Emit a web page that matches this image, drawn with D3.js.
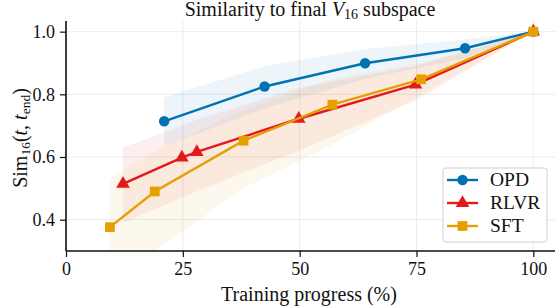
<!DOCTYPE html>
<html><head><meta charset="utf-8">
<script src="https://cdn.jsdelivr.net/npm/d3@7"></script>
<style>body{margin:0;background:#fff}svg text{font-family:'Liberation Serif','Times New Roman',serif !important}</style>
</head><body>
<svg id="c" width="555" height="308"></svg>
<script>
const seriesNames = ["OPD","RLVR","SFT"];
const colors = ["#0072B2","#E3191C","#E69F00"];
const opdX = [21, 42.5, 64, 85.4, 100];
const opdY = [0.714, 0.825, 0.899, 0.947, 1.0];
const opdLo = [0.635, 0.755, 0.85, 0.915, 1.0];
const opdHi = [0.79, 0.89, 0.945, 0.975, 1.0];
const rlvrX = [12.2, 24.8, 28, 49.8, 74.8, 100];
const rlvrY = [0.514, 0.598, 0.616, 0.722, 0.831, 1.0];
const rlvrLo = [0.39, 0.47, 0.49, 0.62, 0.78, 1.0];
const rlvrHi = [0.63, 0.70, 0.72, 0.82, 0.89, 1.0];
const sftX = [9.4, 19.0, 38, 57, 76, 100];
const sftY = [0.376, 0.490, 0.652, 0.767, 0.848, 1.0];
const sftLo = [0.22, 0.30, 0.50, 0.64, 0.80, 1.0];
const sftHi = [0.53, 0.62, 0.75, 0.85, 0.90, 1.0];
const xTicks = [0, 25, 50, 75, 100];
const yTicks = [0.4, 0.6, 0.8, 1.0];

const FONT = "'Liberation Serif', 'Times New Roman', serif";
const svg = d3.select("#c");
const L = 66, R = 555, T = 21, B = 251;
const x = d3.scaleLinear().domain([0, (R - L) / 4.673]).range([L, R]);
const y = d3.scaleLinear().domain([0.3, 1.034]).range([B, T]);

svg.append("defs").append("clipPath").attr("id","clip")
  .append("rect").attr("x",L).attr("y",T).attr("width",R-L).attr("height",B-T);

// grid
const g = svg.append("g");
g.selectAll(".gx").data(xTicks).enter().append("line")
  .attr("x1",d=>x(d)).attr("x2",d=>x(d)).attr("y1",T).attr("y2",B)
  .attr("stroke","#e6e6e6").attr("stroke-width",0.8);
g.selectAll(".gy").data(yTicks).enter().append("line")
  .attr("x1",L).attr("x2",R).attr("y1",d=>y(d)).attr("y2",d=>y(d))
  .attr("stroke","#e6e6e6").attr("stroke-width",0.8);

const series = [
  {name:"OPD", xs:opdX, ys:opdY, lo:opdLo, hi:opdHi, sym:d3.symbolCircle, size:85},
  {name:"RLVR", xs:rlvrX, ys:rlvrY, lo:rlvrLo, hi:rlvrHi, sym:d3.symbolTriangle, size:80},
  {name:"SFT", xs:sftX, ys:sftY, lo:sftLo, hi:sftHi, sym:d3.symbolSquare, size:95}
];
const plot = svg.append("g").attr("clip-path","url(#clip)");
series.forEach((s,i)=>{
  const pts = s.xs.map((v,j)=>({x:v,y:s.ys[j],lo:s.lo[j],hi:s.hi[j]}));
  plot.append("path").datum(pts)
    .attr("d", d3.area().x(d=>x(d.x)).y0(d=>y(d.lo)).y1(d=>y(d.hi)))
    .attr("fill", colors[i]).attr("fill-opacity",0.07);
});
series.forEach((s,i)=>{
  const pts = s.xs.map((v,j)=>({x:v,y:s.ys[j]}));
  plot.append("path").datum(pts)
    .attr("d", d3.line().x(d=>x(d.x)).y(d=>y(d.y)))
    .attr("fill","none").attr("stroke",colors[i]).attr("stroke-width",2.4);
  plot.selectAll(null).data(pts).enter().append("path")
    .attr("d", d3.symbol().type(s.sym).size(s.size))
    .attr("transform", d=>`translate(${x(d.x)},${y(d.y)})`)
    .attr("fill",colors[i]);
});

// axes
const ax = svg.append("g").attr("transform",`translate(0,${B})`)
  .call(d3.axisBottom(x).tickValues(xTicks).tickFormat(d3.format("d")).tickSize(6).tickPadding(5));
const ay = svg.append("g").attr("transform",`translate(${L},0)`)
  .call(d3.axisLeft(y).tickValues(yTicks).tickFormat(d3.format(".1f")).tickSize(6).tickPadding(5));
[ax,ay].forEach(a=>{
  a.attr("font-family",FONT).attr("font-size",18);
  a.selectAll("text").style("font-size","18px").attr("fill","#111");
  a.selectAll("line").attr("stroke","#111").attr("stroke-width",1.2);
  a.select(".domain").attr("stroke","#111").attr("stroke-width",1.6);
});
ax.select(".domain").attr("d",`M${L},0H${R}`);
ay.select(".domain").attr("d",`M0,${B}V${T}`);

// title
const title = svg.append("text").attr("x",310).attr("y",16).attr("text-anchor","middle")
  .style("font-size","20px").attr("fill","#111");
title.append("tspan").text("Similarity to final ");
title.append("tspan").style("font-style","italic").text("V");
title.append("tspan").style("font-size","14px").attr("dy",3).text("16");
title.append("tspan").attr("dy",-3).text(" subspace");

// x label
svg.append("text").attr("x",309).attr("y",301).attr("text-anchor","middle")
  .style("font-size","20px").attr("fill","#111").text("Training progress (%)");

// y label
const yl = svg.append("text").attr("transform","translate(27,138) rotate(-90)")
  .attr("text-anchor","middle").style("font-size","20px").attr("fill","#111");
yl.append("tspan").text("Sim");
yl.append("tspan").style("font-size","13.5px").attr("dy",3).text("16");
yl.append("tspan").attr("dy",-3).text("(");
yl.append("tspan").style("font-style","italic").text("t");
yl.append("tspan").text(", ");
yl.append("tspan").style("font-style","italic").text("t");
yl.append("tspan").style("font-size","13.5px").attr("dy",3).text("end");
yl.append("tspan").attr("dy",-3).text(")");

// legend
const lg = svg.append("g");
lg.append("rect").attr("x",443).attr("y",168).attr("width",104).attr("height",74)
  .attr("rx",3).attr("fill","#fff").attr("fill-opacity",0.85).attr("stroke","#d0d0d0").attr("stroke-width",1);
series.forEach((s,i)=>{
  const yy = 180 + i*23;
  lg.append("line").attr("x1",447).attr("x2",478).attr("y1",yy).attr("y2",yy)
    .attr("stroke",colors[i]).attr("stroke-width",2.4);
  lg.append("path").attr("d",d3.symbol().type(s.sym).size(s.size))
    .attr("transform",`translate(462.5,${yy})`).attr("fill",colors[i]);
  lg.append("text").attr("x",490).attr("y",yy+6).style("font-size","19.5px").attr("fill","#111").text(s.name);
});
</script>
</body></html>
